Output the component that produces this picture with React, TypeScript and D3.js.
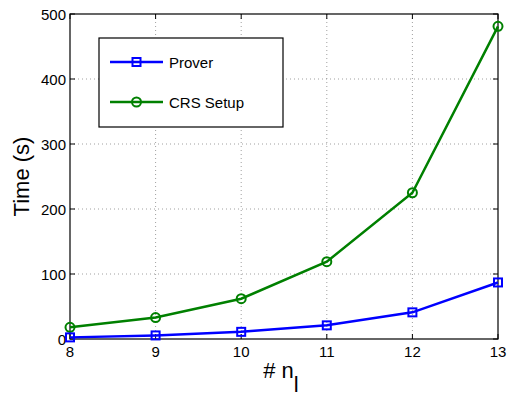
import React from "react";
import * as d3 from "d3";

const xValues = [8, 9, 10, 11, 12, 13];
const proverValues = [2.5, 5.5, 11, 21, 41, 87];
const crsValues = [18, 33, 62, 119, 225, 481];
const yTicks = [0, 100, 200, 300, 400, 500];
const xTicks = [8, 9, 10, 11, 12, 13];

const W = 507, H = 396;
const m = { left: 70, right: 9, top: 14, bottom: 57 };

export default function App() {
  const x = d3.scaleLinear().domain([8, 13]).range([m.left, W - m.right]);
  const y = d3.scaleLinear().domain([0, 500]).range([H - m.bottom, m.top]);
  const line = d3.line<number>().x((_, i) => x(xValues[i])).y((d) => y(d));
  const font = "Liberation Sans, Arial, sans-serif";
  const x0 = x(8), x1 = x(13), y0 = y(0), y1 = y(500);
  return (
    <svg width={W} height={H} style={{ position: "absolute", left: 0, top: 0, background: "#fff" }} fontFamily={font}>
      <rect x={0} y={0} width={W} height={H} fill="#fff" />
      {/* grid */}
      {xTicks.slice(1, -1).map((t) => (
        <line key={"gx" + t} x1={x(t)} x2={x(t)} y1={y0} y2={y1} stroke="#888" strokeWidth={0.8} strokeDasharray="1,3" />
      ))}
      {yTicks.slice(1, -1).map((t) => (
        <line key={"gy" + t} x1={x0} x2={x1} y1={y(t)} y2={y(t)} stroke="#888" strokeWidth={0.8} strokeDasharray="1,3" />
      ))}
      {/* ticks */}
      {xTicks.map((t) => (
        <g key={"tx" + t}>
          <line x1={x(t)} x2={x(t)} y1={y0} y2={y0 - 5} stroke="#000" />
          <line x1={x(t)} x2={x(t)} y1={y1} y2={y1 + 5} stroke="#000" />
          <text x={x(t)} y={y0 + 18} fontSize={15} textAnchor="middle" fill="#000">{t}</text>
        </g>
      ))}
      {yTicks.map((t) => (
        <g key={"ty" + t}>
          <line x1={x0} x2={x0 + 5} y1={y(t)} y2={y(t)} stroke="#000" />
          <line x1={x1} x2={x1 - 5} y1={y(t)} y2={y(t)} stroke="#000" />
          <text x={x0 - 4} y={y(t) + 5.5} fontSize={15} textAnchor="end" fill="#000">{t}</text>
        </g>
      ))}
      <rect x={x0} y={y1} width={x1 - x0} height={y0 - y1} fill="none" stroke="#000" strokeWidth={1.2} />
      {/* series */}
      <path d={line(crsValues) || ""} fill="none" stroke="#008000" strokeWidth={2.5} />
      {crsValues.map((v, i) => (
        <circle key={"c" + i} cx={x(xValues[i])} cy={y(v)} r={4.5} fill="none" stroke="#008000" strokeWidth={2} />
      ))}
      <path d={line(proverValues) || ""} fill="none" stroke="#0000ff" strokeWidth={2.5} />
      {proverValues.map((v, i) => (
        <rect key={"p" + i} x={x(xValues[i]) - 4} y={y(v) - 4} width={8} height={8} fill="none" stroke="#0000ff" strokeWidth={2} />
      ))}
      {/* legend */}
      <rect x={99} y={38} width={184} height={89} fill="#fff" stroke="#000" strokeWidth={1.2} />
      <line x1={110} x2={163} y1={62} y2={62} stroke="#0000ff" strokeWidth={2.5} />
      <rect x={132.5} y={58} width={8} height={8} fill="none" stroke="#0000ff" strokeWidth={2} />
      <text x={169} y={67.5} fontSize={15} fill="#000">Prover</text>
      <line x1={110} x2={163} y1={102} y2={102} stroke="#008000" strokeWidth={2.5} />
      <circle cx={136.5} cy={102} r={4.5} fill="none" stroke="#008000" strokeWidth={2} />
      <text x={169} y={107.5} fontSize={15} fill="#000">CRS Setup</text>
      {/* axis labels */}
      <text transform={`translate(29,${(y0 + y1) / 2}) rotate(-90)`} fontSize={22} textAnchor="middle" fill="#000">Time (s)</text>
      <text x={(x0 + x1) / 2 - 3} y={378} fontSize={22} textAnchor="middle" fill="#000">
        # n<tspan fontSize={22} dy={14}>l</tspan>
      </text>
    </svg>
  );
}
